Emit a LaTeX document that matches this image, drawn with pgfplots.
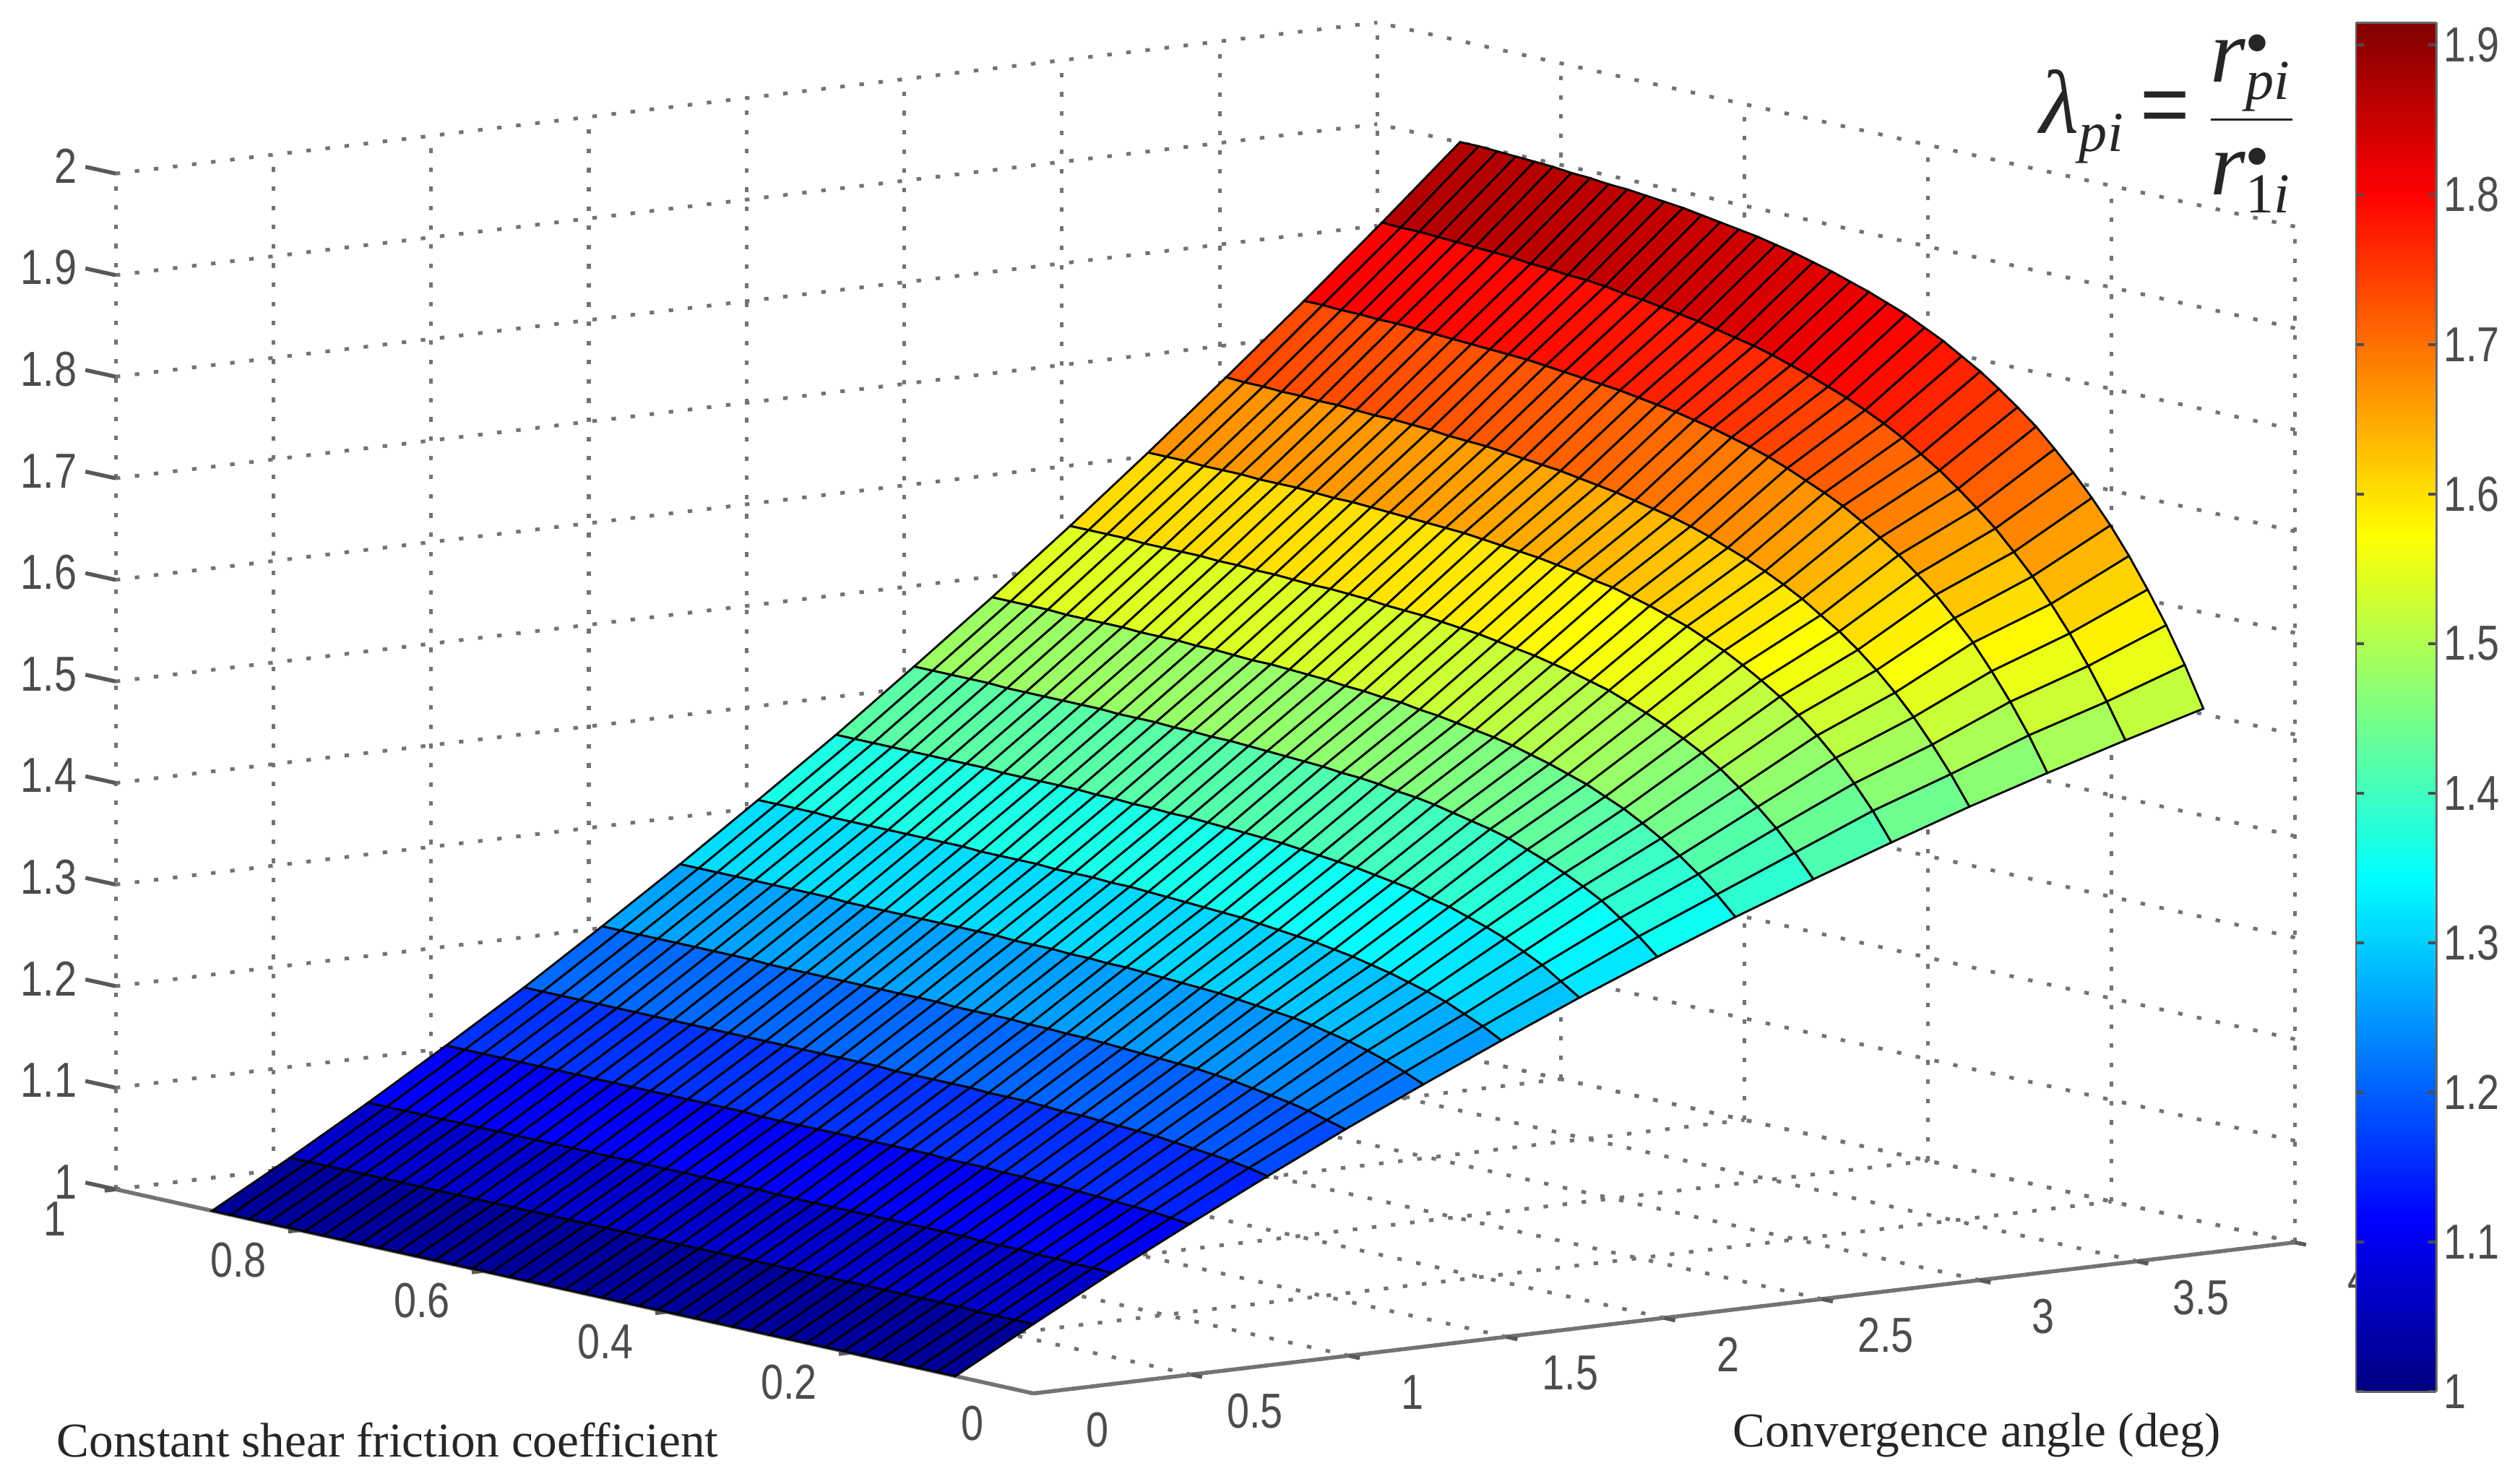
\documentclass[border=0pt]{standalone}
\usepackage{pgfplots}
\pgfplotsset{compat=1.18}
\usepackage{fontspec}
\setmainfont{Liberation Sans}
\newfontfamily\serifcap{Liberation Serif}
\newfontfamily\narrowsans[FakeStretch=0.82]{Liberation Sans}
\begin{document}
\begin{tikzpicture}
\path[use as bounding box] (0,0) rectangle (15.68,9.23);
\begin{axis}[
  at={(6.43cm,0.56cm)}, anchor=origin,
  x={(1.9625cm,0.235cm)}, y={(-5.71cm,1.27cm)}, z={(0cm,6.32cm)},
  xmin=0,xmax=4,ymin=0,ymax=1,zmin=1,zmax=2,
  xtick={0,0.5,1,1.5,2,2.5,3,3.5,4},
  ytick={0,0.2,0.4,0.6,0.8,1},
  ztick={1,1.1,1.2,1.3,1.4,1.5,1.6,1.7,1.8,1.9,2},
  xtick pos=left, ytick pos=left, ztick pos=left, tick align=outside,
  scaled ticks=false,
  /pgf/number format/assume math mode=true,
  /pgf/number format/fixed,
  grid=major,
  grid style={dash pattern=on 0.8pt off 2.6pt, black!55, line width=0.65pt},
  axis line style={draw=none},
  tick style={draw=none},
  major tick length=0.12cm,
  unbounded coords=jump,
  tick label style={font=\narrowsans\fontsize{8.7}{10}\selectfont, text=black!70},
  xticklabel style={anchor=center, xshift=0.28cm, yshift=-0.2cm},
  yticklabel style={anchor=center, xshift=-0.26cm, yshift=-0.17cm},
  zticklabel style={anchor=east, xshift=0cm, yshift=0.02cm},
  colormap/jet, point meta min=1, point meta max=1.915,
  clip=false,
]
\addplot3[black!55, line width=0.7pt, no marks] coordinates {(0,0,1) (4,0,1)};
\addplot3[black!55, line width=0.7pt, no marks] coordinates {(0,0,1) (0,1,1)};
\addplot3[black!65, line width=0.7pt, no marks] coordinates {
 (0,1,1)(0,1.033,1)(0,1,nan) (0,1,1.1)(0,1.033,1.1)(0,1,nan) (0,1,1.2)(0,1.033,1.2)(0,1,nan)
 (0,1,1.3)(0,1.033,1.3)(0,1,nan) (0,1,1.4)(0,1.033,1.4)(0,1,nan) (0,1,1.5)(0,1.033,1.5)(0,1,nan)
 (0,1,1.6)(0,1.033,1.6)(0,1,nan) (0,1,1.7)(0,1.033,1.7)(0,1,nan) (0,1,1.8)(0,1.033,1.8)(0,1,nan)
 (0,1,1.9)(0,1.033,1.9)(0,1,nan) (0,1,2)(0,1.033,2)};
\addplot3[black!65, line width=0.7pt, no marks] coordinates {
 (0.5,0,1)(0.5,-0.012,1)(0.5,0,nan) (1,0,1)(1,-0.012,1)(1,0,nan) (1.5,0,1)(1.5,-0.012,1)(1.5,0,nan)
 (2,0,1)(2,-0.012,1)(2,0,nan) (2.5,0,1)(2.5,-0.012,1)(2.5,0,nan) (3,0,1)(3,-0.012,1)(3,0,nan)
 (3.5,0,1)(3.5,-0.012,1)(3.5,0,nan) (4,0,1)(4,-0.012,1)};
\addplot3[black!65, line width=0.7pt, no marks] coordinates {
 (0,0.2,1)(-0.035,0.2,1)(0,0.2,nan) (0,0.4,1)(-0.035,0.4,1)(0,0.4,nan)
 (0,0.6,1)(-0.035,0.6,1)(0,0.6,nan) (0,0.8,1)(-0.035,0.8,1)(0,0.8,nan) (0,1,1)(-0.035,1,1)};
\addplot3[surf, shader=faceted, faceted color=black, line width=0.36pt, mesh/cols=41]
 table[row sep=\\, x expr={floor((\coordindex+0.5)/41)*0.2473}, y expr={0.085+mod(\coordindex,41)*0.02025}, z=z]{
z\\
1\\1\\1\\1\\1\\1\\1\\1\\1\\1\\1\\1\\1\\1\\1\\1\\1\\1\\1\\1\\1\\1\\1\\1\\1\\1\\1\\1\\1\\1\\1\\1\\1\\1\\1\\1\\1\\1\\1\\1\\1\\
1.042\\1.042\\1.042\\1.042\\1.043\\1.043\\1.043\\1.043\\1.043\\1.043\\1.043\\1.043\\1.043\\1.043\\1.043\\1.043\\1.043\\1.043\\1.043\\1.043\\1.043\\1.043\\1.043\\1.043\\1.043\\1.043\\1.043\\1.043\\1.043\\1.043\\1.043\\1.043\\1.043\\1.043\\1.043\\1.043\\1.043\\1.043\\1.043\\1.043\\1.043\\
1.083\\1.084\\1.084\\1.085\\1.085\\1.086\\1.086\\1.086\\1.087\\1.087\\1.087\\1.087\\1.087\\1.087\\1.087\\1.087\\1.087\\1.087\\1.087\\1.088\\1.088\\1.088\\1.088\\1.088\\1.088\\1.088\\1.088\\1.088\\1.088\\1.088\\1.088\\1.088\\1.088\\1.088\\1.088\\1.088\\1.088\\1.088\\1.088\\1.088\\1.088\\
1.122\\1.124\\1.126\\1.127\\1.128\\1.129\\1.130\\1.131\\1.131\\1.132\\1.132\\1.133\\1.133\\1.133\\1.134\\1.134\\1.134\\1.134\\1.134\\1.134\\1.134\\1.134\\1.134\\1.134\\1.135\\1.135\\1.135\\1.135\\1.135\\1.135\\1.135\\1.135\\1.135\\1.135\\1.135\\1.135\\1.135\\1.135\\1.135\\1.135\\1.135\\
1.160\\1.164\\1.167\\1.169\\1.171\\1.173\\1.175\\1.176\\1.177\\1.178\\1.179\\1.179\\1.180\\1.181\\1.181\\1.181\\1.182\\1.182\\1.182\\1.182\\1.182\\1.183\\1.183\\1.183\\1.183\\1.183\\1.183\\1.183\\1.183\\1.183\\1.183\\1.183\\1.183\\1.183\\1.183\\1.183\\1.183\\1.183\\1.183\\1.183\\1.183\\
1.197\\1.202\\1.207\\1.211\\1.214\\1.217\\1.220\\1.222\\1.224\\1.225\\1.226\\1.227\\1.228\\1.229\\1.230\\1.230\\1.231\\1.231\\1.232\\1.232\\1.232\\1.232\\1.233\\1.233\\1.233\\1.233\\1.233\\1.233\\1.233\\1.233\\1.233\\1.233\\1.234\\1.234\\1.234\\1.234\\1.234\\1.234\\1.234\\1.234\\1.234\\
1.232\\1.240\\1.247\\1.253\\1.258\\1.262\\1.266\\1.269\\1.271\\1.273\\1.275\\1.277\\1.278\\1.279\\1.280\\1.281\\1.282\\1.282\\1.283\\1.283\\1.284\\1.284\\1.284\\1.285\\1.285\\1.285\\1.285\\1.285\\1.285\\1.285\\1.285\\1.285\\1.286\\1.286\\1.286\\1.286\\1.286\\1.286\\1.286\\1.286\\1.286\\
1.266\\1.276\\1.284\\1.292\\1.298\\1.303\\1.308\\1.312\\1.316\\1.319\\1.322\\1.324\\1.326\\1.328\\1.330\\1.331\\1.332\\1.333\\1.334\\1.335\\1.336\\1.336\\1.337\\1.337\\1.337\\1.338\\1.338\\1.338\\1.338\\1.339\\1.339\\1.339\\1.339\\1.339\\1.339\\1.339\\1.339\\1.340\\1.340\\1.340\\1.340\\
1.299\\1.311\\1.323\\1.332\\1.341\\1.348\\1.354\\1.360\\1.364\\1.369\\1.372\\1.375\\1.378\\1.380\\1.382\\1.384\\1.386\\1.387\\1.388\\1.389\\1.390\\1.391\\1.391\\1.392\\1.392\\1.393\\1.393\\1.394\\1.394\\1.394\\1.394\\1.394\\1.395\\1.395\\1.395\\1.395\\1.395\\1.395\\1.395\\1.395\\1.395\\
1.330\\1.346\\1.360\\1.373\\1.383\\1.392\\1.400\\1.407\\1.414\\1.419\\1.423\\1.427\\1.431\\1.434\\1.436\\1.439\\1.441\\1.442\\1.444\\1.445\\1.446\\1.447\\1.448\\1.449\\1.449\\1.450\\1.450\\1.451\\1.451\\1.451\\1.452\\1.452\\1.452\\1.452\\1.452\\1.452\\1.453\\1.453\\1.453\\1.453\\1.453\\
1.360\\1.378\\1.394\\1.408\\1.421\\1.432\\1.442\\1.450\\1.458\\1.464\\1.470\\1.475\\1.480\\1.484\\1.487\\1.490\\1.493\\1.495\\1.498\\1.499\\1.501\\1.502\\1.504\\1.505\\1.506\\1.507\\1.507\\1.508\\1.509\\1.509\\1.510\\1.510\\1.510\\1.511\\1.511\\1.511\\1.511\\1.512\\1.512\\1.512\\1.512\\
1.388\\1.410\\1.430\\1.447\\1.462\\1.476\\1.488\\1.498\\1.507\\1.515\\1.522\\1.529\\1.534\\1.539\\1.543\\1.547\\1.550\\1.553\\1.556\\1.558\\1.560\\1.562\\1.563\\1.564\\1.566\\1.567\\1.568\\1.568\\1.569\\1.570\\1.570\\1.571\\1.571\\1.572\\1.572\\1.572\\1.572\\1.573\\1.573\\1.573\\1.573\\
1.415\\1.442\\1.465\\1.486\\1.504\\1.520\\1.534\\1.546\\1.557\\1.567\\1.575\\1.583\\1.589\\1.595\\1.600\\1.605\\1.608\\1.612\\1.615\\1.618\\1.620\\1.622\\1.624\\1.626\\1.627\\1.628\\1.629\\1.630\\1.631\\1.632\\1.632\\1.633\\1.634\\1.634\\1.634\\1.635\\1.635\\1.635\\1.636\\1.636\\1.636\\
1.441\\1.469\\1.494\\1.517\\1.537\\1.555\\1.571\\1.585\\1.597\\1.609\\1.619\\1.628\\1.636\\1.643\\1.650\\1.656\\1.661\\1.665\\1.669\\1.673\\1.676\\1.679\\1.682\\1.684\\1.686\\1.688\\1.690\\1.691\\1.692\\1.694\\1.695\\1.696\\1.696\\1.697\\1.698\\1.698\\1.699\\1.699\\1.700\\1.700\\1.701\\
1.465\\1.498\\1.527\\1.553\\1.577\\1.597\\1.616\\1.632\\1.647\\1.660\\1.672\\1.683\\1.692\\1.700\\1.708\\1.715\\1.721\\1.726\\1.731\\1.735\\1.739\\1.742\\1.745\\1.748\\1.750\\1.752\\1.754\\1.756\\1.758\\1.759\\1.760\\1.761\\1.762\\1.763\\1.764\\1.765\\1.765\\1.766\\1.766\\1.767\\1.767\\
1.488\\1.522\\1.553\\1.581\\1.606\\1.629\\1.649\\1.668\\1.684\\1.699\\1.713\\1.725\\1.737\\1.747\\1.756\\1.764\\1.771\\1.778\\1.784\\1.790\\1.795\\1.799\\1.803\\1.807\\1.810\\1.813\\1.816\\1.818\\1.821\\1.823\\1.824\\1.826\\1.827\\1.829\\1.830\\1.831\\1.832\\1.833\\1.834\\1.834\\1.835\\
1.510\\1.549\\1.584\\1.615\\1.644\\1.670\\1.693\\1.714\\1.733\\1.751\\1.766\\1.780\\1.793\\1.804\\1.815\\1.824\\1.833\\1.840\\1.847\\1.853\\1.859\\1.864\\1.869\\1.873\\1.877\\1.880\\1.883\\1.886\\1.889\\1.891\\1.893\\1.895\\1.896\\1.898\\1.899\\1.901\\1.902\\1.903\\1.904\\1.905\\1.905\\
};
\end{axis}
\begin{axis}[
  at={(14.66cm,0.57cm)}, anchor=south west, scale only axis,
  width=0.5cm, height=8.52cm, view={0}{90},
  xmin=0,xmax=1,ymin=1,ymax=1.915,
  xtick=\empty, ytick={1,1.1,1.2,1.3,1.4,1.5,1.6,1.7,1.8,1.9},
  yticklabel pos=right, scaled ticks=false,
  /pgf/number format/assume math mode=true,
  /pgf/number format/fixed,
  tick align=inside, major tick length=0.05cm,
  tick style={black!70, line width=0.5pt},
  axis line style={black!60, line width=0.3pt},
  tick label style={font=\narrowsans\fontsize{8.7}{10}\selectfont, text=black!70},
  yticklabel style={xshift=-0.08cm},
  colormap/jet, point meta min=1, point meta max=1.915,
]
\addplot3[surf, shader=interp, mesh/cols=2] coordinates {
 (0,1,1) (1,1,1)
 (0,1.915,1.915) (1,1.915,1.915)};
\end{axis}
\node[anchor=west, font=\serifcap\fontsize{8.6}{10}\selectfont, text=black!85] at (0.23,0.27) {Constant shear friction coefficient};
\node[anchor=west, font=\serifcap\fontsize{8.6}{10}\selectfont, text=black!85] at (10.66,0.30) {Convergence angle\ (deg)};
\node[text=black!85] at (13.5,8.46) {$\displaystyle \hbox{\serifcap\itshape\fontsize{16}{18}\selectfont λ}_{\hbox{\serifcap\itshape\fontsize{10}{10}\selectfont pi}}
 \hbox{\fontsize{15}{17}\selectfont\,=\,}
 \frac{\hbox{\serifcap\itshape\fontsize{16}{18}\selectfont r}^{\bullet}_{\hbox{\serifcap\itshape\fontsize{10}{10}\selectfont pi}}}{\rule{0pt}{0.42cm}\hbox{\serifcap\itshape\fontsize{16}{18}\selectfont r}^{\bullet}_{\hbox{\serifcap\fontsize{10}{10}\selectfont 1\itshape i}}}$};
\end{tikzpicture}
\end{document}
